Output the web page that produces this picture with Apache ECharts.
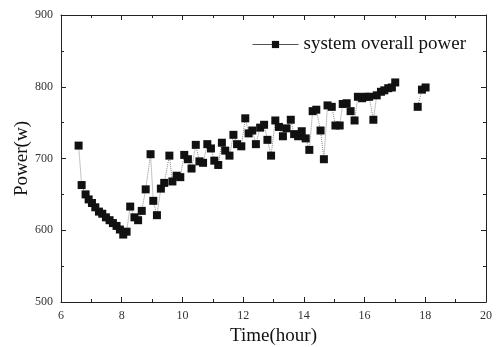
<!DOCTYPE html>
<html>
<head>
<meta charset="utf-8">
<script src="https://cdn.jsdelivr.net/npm/echarts@6/dist/echarts.min.js"></script>
<style>html,body{margin:0;padding:0;background:#fff}#c{width:498px;height:347px}</style>
</head>
<body>
<div id="c"></div>
<script>
// Time in hours; null power marks a gap in the line
const hours = [6.58,6.68,6.81,6.91,7.02,7.13,7.25,7.36,7.48,7.60,7.71,7.83,7.94,8.05,8.16,8.28,8.42,8.54,8.66,8.79,8.95,9.04,9.16,9.29,9.40,9.57,9.67,9.81,9.93,10.06,10.18,10.30,10.44,10.56,10.68,10.82,10.94,11.05,11.18,11.30,11.41,11.55,11.68,11.80,11.94,12.07,12.18,12.30,12.42,12.56,12.69,12.80,12.92,13.06,13.18,13.31,13.43,13.57,13.68,13.81,13.93,14.06,14.18,14.29,14.41,14.55,14.66,14.78,14.92,15.04,15.18,15.28,15.41,15.54,15.67,15.78,15.92,16.04,16.15,16.29,16.40,16.54,16.65,16.78,16.90,17.01,17.40,17.75,17.89,18.01];
const power = [718,663,650,643,638,632,626,623,618,614,610,606,601,594,598,633,618,614,627,657,706,641,621,658,666,704,668,676,674,705,699,686,719,696,694,720,714,697,691,722,711,704,733,720,717,756,735,739,720,743,747,726,704,753,744,731,742,754,734,731,738,728,712,766,768,739,699,774,772,746,746,776,777,766,753,786,784,786,786,754,788,793,795,798,799,806,null,772,796,799];
const xTicks = [6,8,10,12,14,16,18,20];
const yTicks = [500,600,700,800,900];
const seriesName = 'system overall power';

const data = hours.map((h,i)=>[h, power[i]===null ? '-' : power[i]]);
const font = 'Liberation Serif, Times New Roman, serif';
const axisCommon = {
  axisLine:{show:true,lineStyle:{color:'#222',width:1}},
  axisTick:{show:true,inside:true,length:5,lineStyle:{color:'#222'}},
  minorTick:{show:true,splitNumber:2,length:3,lineStyle:{color:'#222'}},
  splitLine:{show:false}
};
const chart = echarts.init(document.getElementById('c'));
chart.setOption({
  animation:false,
  backgroundColor:'#fff',
  grid:{left:61,right:12,top:15,bottom:45,containLabel:false,outerBoundsMode:'none'},
  legend:{
    data:[seriesName], left:247, top:30,
    itemWidth:46, itemHeight:9, itemGap:5,
    textStyle:{fontFamily:font,fontSize:19,color:'#111'},
    lineStyle:{type:'solid',color:'#555',width:1}
  },
  xAxis:[
    Object.assign({type:'value',min:6,max:20,interval:2,position:'bottom',
      name:'Time(hour)',nameLocation:'middle',nameGap:25,nameMoveOverlap:false,
      nameTextStyle:{fontFamily:font,fontSize:19,color:'#111'},
      axisLabel:{fontFamily:font,fontSize:12,color:'#333',margin:8,
        customValues:xTicks}},axisCommon),
    Object.assign({type:'value',min:6,max:20,interval:2,position:'top',
      axisLabel:{show:false}},axisCommon)
  ],
  yAxis:[
    Object.assign({type:'value',min:500,max:900,interval:100,position:'left',
      name:'Power(w)',nameLocation:'middle',nameGap:29,nameMoveOverlap:false,
      nameTextStyle:{fontFamily:font,fontSize:19,color:'#111'},
      axisLabel:{fontFamily:font,fontSize:12,color:'#333',margin:8}},axisCommon),
    Object.assign({type:'value',min:500,max:900,interval:100,position:'right',
      axisLabel:{show:false}},axisCommon)
  ],
  series:[{
    name:seriesName, type:'line', xAxisIndex:0, yAxisIndex:0,
    data:data, connectNulls:false,
    symbol:'rect', symbolSize:8, showSymbol:true,
    itemStyle:{color:'#111'},
    lineStyle:{color:'#888',width:1,type:'dotted'}
  }]
});
</script>
</body>
</html>
